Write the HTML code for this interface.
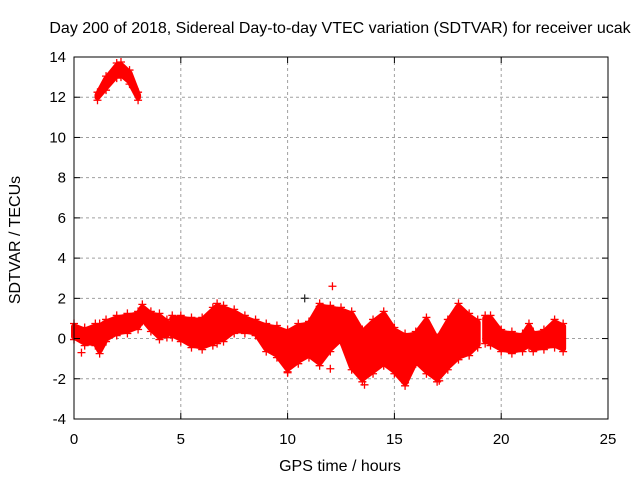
<!DOCTYPE html>
<html><head><meta charset="utf-8"><style>
body{margin:0;background:#fff;}
svg text{font-family:"Liberation Sans",sans-serif;font-size:15px;fill:#000;}
svg text.big{font-size:16px;}
</style></head><body>
<svg width="640" height="480" viewBox="0 0 640 480" xmlns="http://www.w3.org/2000/svg">
<rect x="0" y="0" width="640" height="480" fill="#fff"/>
<g id="grid"></g>
<g id="data"></g>
<rect x="74" y="57" width="534" height="362" fill="none" stroke="#000" stroke-width="1"/>
<g id="ticks"></g>
<text class="big" x="340" y="33" text-anchor="middle">Day 200 of 2018, Sidereal Day-to-day VTEC variation (SDTVAR) for receiver ucak</text>
<text class="big" x="340" y="471" text-anchor="middle">GPS time / hours</text>
<text class="big" x="0" y="0" text-anchor="middle" transform="translate(20,240) rotate(-90)">SDTVAR / TECUs</text>
</svg>
<script>
const xTicks=[0,5,10,15,20,25];
const yTicks=[-4,-2,0,2,4,6,8,10,12,14];
// segments: hours, upper envelope, lower envelope
const seg1Hours=[0,0.5,1.0,1.2,1.5,2.0,2.5,3.0,3.2,3.6,4.0,4.35];
const seg1Upper=[0.6,0.4,0.6,0.6,0.8,1.0,1.1,1.2,1.55,1.2,1.1,0.8];
const seg1Lower=[0.1,-0.2,-0.2,-0.6,0.0,0.3,0.4,0.6,1.0,0.5,0.1,0.2];
const seg2Hours=[4.6,5.0,5.5,6.0,6.5,6.7,7.0,7.5,8.0,8.5,9.0,9.5,10.0,10.5,11.0,11.5,12.0,12.5,13.0,13.5,14.0,14.5,15.0,15.5,16.0,16.5,17.0,17.5,18.0,18.5,18.9];
const seg2Upper=[1.0,1.0,0.9,0.9,1.4,1.6,1.5,1.3,1.0,0.8,0.6,0.5,0.3,0.6,0.7,1.6,1.5,1.4,1.2,0.3,0.8,1.2,0.4,0.1,0.2,0.9,-0.1,0.8,1.6,1.1,0.8];
const seg2Lower=[0.2,0.0,-0.3,-0.4,-0.2,-0.1,0.0,0.4,0.4,0.3,-0.5,-0.8,-1.5,-1.1,-0.8,-1.2,-0.5,0.0,-1.4,-2.0,-1.6,-1.2,-1.6,-2.2,-1.1,-1.6,-2.0,-1.4,-0.9,-0.7,-0.3];
const seg3Hours=[19.25,19.5,20.0,20.5,21.0,21.3,21.5,22.0,22.5,22.9];
const seg3Upper=[1.0,1.0,0.3,0.2,0.1,0.6,0.2,0.3,0.8,0.6];
const seg3Lower=[-0.1,-0.2,-0.5,-0.6,-0.5,-0.3,-0.5,-0.4,-0.3,-0.5];
const arcHours=[1.1,1.5,2.0,2.2,2.6,3.0];
const arcUpper=[12.1,12.9,13.55,13.6,13.2,12.1];
const arcLower=[12.0,12.5,13.1,13.15,12.8,12.0];
const spikeHours=[0.35,10.0,11.5,12.1,12.0,13.6,15.5,17.1];
const spikeValues=[-0.7,-1.7,1.6,2.6,-1.5,-2.3,-2.2,-2.1];
const darkHours=[10.8];
const darkValues=[2.0];

const X0=74,X1=608,Y0=419,Y1=57;
const xs=h=>X0+(h-0)/(25-0)*(X1-X0);
const ys=v=>Y0-(v-(-4))/(14-(-4))*(Y0-Y1);
const NS='http://www.w3.org/2000/svg';
const grid=document.getElementById('grid'),ticks=document.getElementById('ticks'),data=document.getElementById('data');
function mk(tag,attrs,parent){const e=document.createElementNS(NS,tag);for(const k in attrs)e.setAttribute(k,attrs[k]);parent.appendChild(e);return e;}
xTicks.forEach(t=>{
  const x=xs(t);
  if(t>0&&t<25){const g=mk('line',{x1:x,y1:Y0,x2:x,y2:Y1,stroke:'#a0a0a0','stroke-dasharray':'3,3'},grid);
  
  }
  mk('line',{x1:x,y1:Y0,x2:x,y2:Y0-6,stroke:'#000'},ticks);
  mk('line',{x1:x,y1:Y1,x2:x,y2:Y1+6,stroke:'#000'},ticks);
  const tx=mk('text',{x:x,y:Y0+25,'text-anchor':'middle'},ticks);tx.textContent=t;
  
  
});
yTicks.forEach(t=>{
  const y=ys(t);
  if(t>-4&&t<14){const g=mk('line',{x1:X0,y1:y,x2:X1,y2:y,stroke:'#a0a0a0','stroke-dasharray':'3,3'},grid);
  
  }
  mk('line',{x1:X0,y1:y,x2:X0+6,y2:y,stroke:'#000'},ticks);
  mk('line',{x1:X1,y1:y,x2:X1-6,y2:y,stroke:'#000'},ticks);
  const tx=mk('text',{x:X0-8,y:y+5,'text-anchor':'end'},ticks);tx.textContent=t;
  
  
});
function plus(h,v,col){
  const x=xs(h),y=ys(v);
  const p=mk('path',{d:`M${x-4},${y}H${x+4}M${x},${y-4}V${y+4}`,stroke:col,'stroke-width':1.3,fill:'none'},data);
  
  
}
function band(H,U,L,name){
  let d='M'+H.map((h,i)=>xs(h)+','+ys(U[i])).join('L')+'L'+H.slice().reverse().map((h,j)=>{const i=H.length-1-j;return xs(h)+','+ys(L[i]);}).join('L')+'Z';
  const p=mk('path',{d:d,fill:'#f00',stroke:'#f00','stroke-width':6,'stroke-linejoin':'round'},data);
  
  
  H.forEach((h,i)=>{plus(h,U[i]+0.15,'#f00');plus(h,L[i]-0.15,'#f00');});
}
band(seg1Hours,seg1Upper,seg1Lower,'series-band-early');
band(seg2Hours,seg2Upper,seg2Lower,'series-band-main');
band(seg3Hours,seg3Upper,seg3Lower,'series-band-late');
band(arcHours,arcUpper,arcLower,'series-arc');
spikeHours.forEach((h,i)=>plus(h,spikeValues[i],'#f00'));
darkHours.forEach((h,i)=>plus(h,darkValues[i],'#333'));
</script>
</body></html>
